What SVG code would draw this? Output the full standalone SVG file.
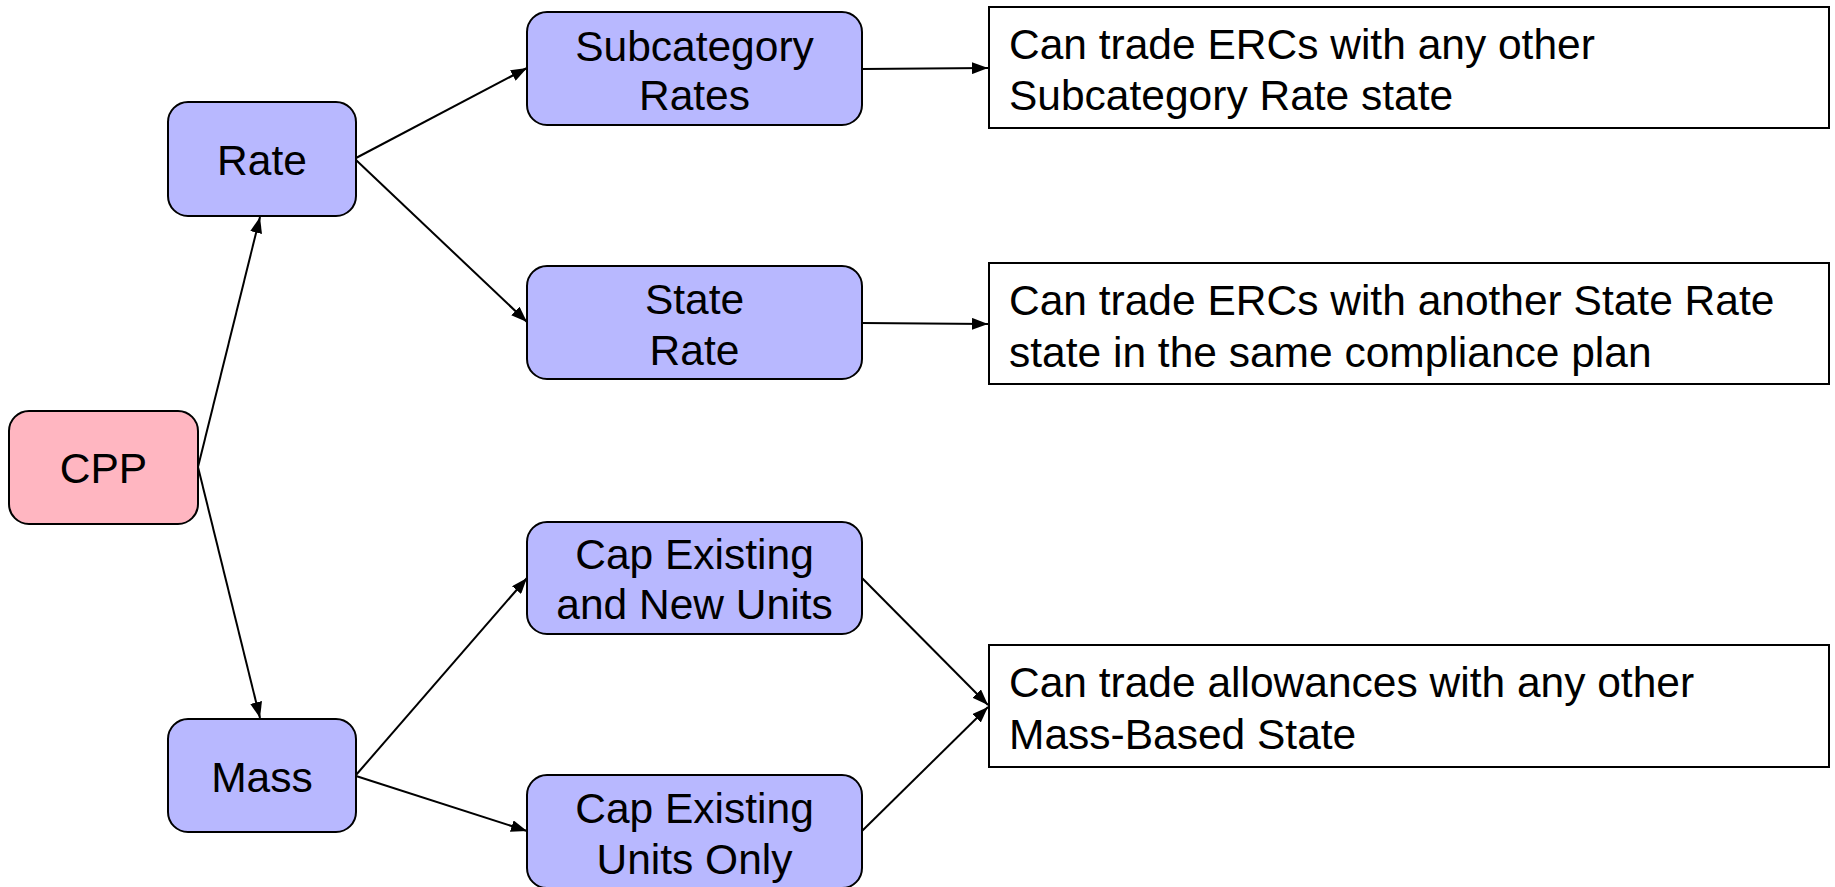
<svg xmlns="http://www.w3.org/2000/svg" width="1835" height="887" viewBox="0 0 1835 887">
<style>
.node{fill:#b8b8ff;stroke:#000;stroke-width:2}
.root{fill:#ffb6c1;stroke:#000;stroke-width:2}
.box{fill:#fff;stroke:#000;stroke-width:2}
.t{font-family:"Liberation Sans",Arial,Helvetica,sans-serif;font-size:42.5px;fill:#000}
.c{text-anchor:middle}
.edge{stroke:#000;stroke-width:2;fill:none;marker-end:url(#arr)}
</style>
<defs>
<marker id="arr" markerUnits="userSpaceOnUse" markerWidth="16" markerHeight="12" refX="16" refY="6" orient="auto">
<path d="M0,0 L16,6 L0,12 Z" fill="#000"/>
</marker>
</defs>
<rect width="1835" height="887" fill="#fff"/>
<g id="connectors">
<line class="edge" x1="198" y1="467" x2="260" y2="217"/>
<line class="edge" x1="198" y1="467" x2="260" y2="718"/>
<line class="edge" x1="356" y1="158" x2="527" y2="68"/>
<line class="edge" x1="356" y1="160" x2="527" y2="322"/>
<line class="edge" x1="356" y1="775" x2="527" y2="578"/>
<line class="edge" x1="356" y1="776" x2="527" y2="831"/>
<line class="edge" x1="862" y1="69" x2="988" y2="68"/>
<line class="edge" x1="862" y1="323" x2="988" y2="324"/>
<line class="edge" x1="862" y1="578" x2="988" y2="705"/>
<line class="edge" x1="862" y1="831" x2="988" y2="707"/>
</g>
<g id="cpp">
<rect class="root" x="9" y="411" width="189" height="113" rx="20"/>
<text class="t c" x="103.5" y="483">CPP</text>
</g>
<g id="rate">
<rect class="node" x="168" y="102" width="188" height="114" rx="20"/>
<text class="t c" x="262" y="175">Rate</text>
</g>
<g id="mass">
<rect class="node" x="168" y="719" width="188" height="113" rx="20"/>
<text class="t c" x="262" y="792">Mass</text>
</g>
<g id="subcategory">
<rect class="node" x="527" y="12" width="335" height="113" rx="20"/>
<text class="t c" x="694.5" y="61">Subcategory</text>
<text class="t c" x="694.5" y="110">Rates</text>
</g>
<g id="staterate">
<rect class="node" x="527" y="266" width="335" height="113" rx="20"/>
<text class="t c" x="694.5" y="314">State</text>
<text class="t c" x="694.5" y="365">Rate</text>
</g>
<g id="capnew">
<rect class="node" x="527" y="522" width="335" height="112" rx="20"/>
<text class="t c" x="694.5" y="569">Cap Existing</text>
<text class="t c" x="694.5" y="619">and New Units</text>
</g>
<g id="caponly">
<rect class="node" x="527" y="775" width="335" height="113" rx="20"/>
<text class="t c" x="694.5" y="823">Cap Existing</text>
<text class="t c" x="694.5" y="874">Units Only</text>
</g>
<g id="note1">
<rect class="box" x="989" y="7" width="840" height="121"/>
<text class="t" x="1009" y="59">Can trade ERCs with any other</text>
<text class="t" x="1009" y="110">Subcategory Rate state</text>
</g>
<g id="note2">
<rect class="box" x="989" y="263" width="840" height="121"/>
<text class="t" x="1009" y="315">Can trade ERCs with another State Rate</text>
<text class="t" x="1009" y="367">state in the same compliance plan</text>
</g>
<g id="note3">
<rect class="box" x="989" y="645" width="840" height="122"/>
<text class="t" x="1009" y="697">Can trade allowances with any other</text>
<text class="t" x="1009" y="749">Mass-Based State</text>
</g>
</svg>
